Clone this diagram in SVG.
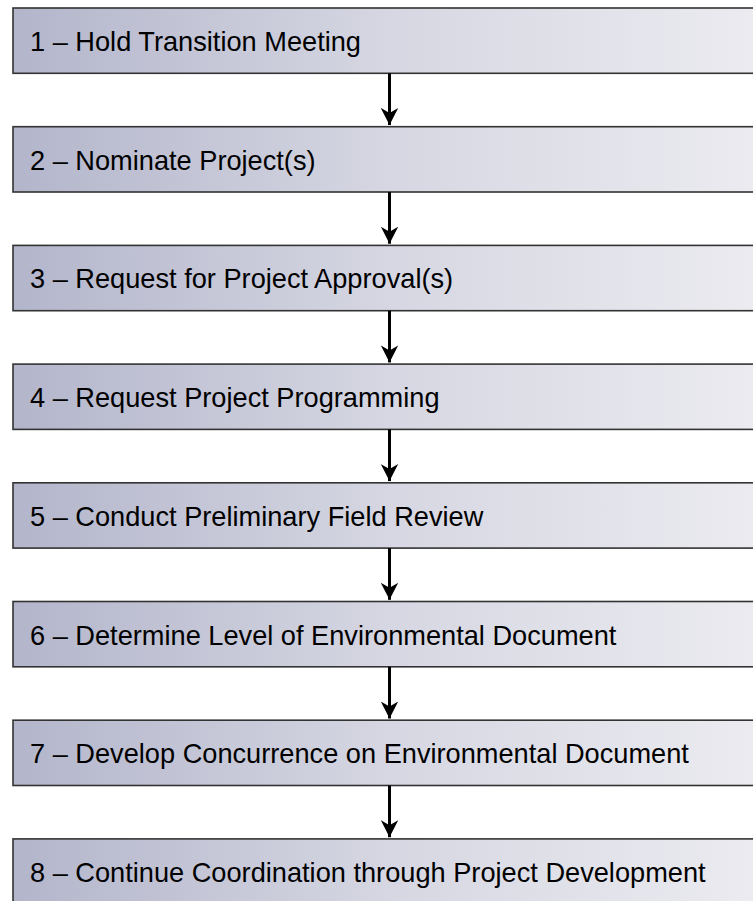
<svg xmlns="http://www.w3.org/2000/svg" width="753" height="901" viewBox="0 0 753 901">
<defs>
<linearGradient id="g" x1="0" y1="0" x2="1" y2="0">
<stop offset="0" stop-color="#b3b5cb"/>
<stop offset="0.5" stop-color="#d6d7e2"/>
<stop offset="1" stop-color="#ececf1"/>
</linearGradient>
<marker id="ah" viewBox="0 0 18 18" markerWidth="18" markerHeight="18" refX="17" refY="9" orient="auto" markerUnits="userSpaceOnUse">
<path d="M0,0.3 L17,9 L0,17.7 L5,9 Z" fill="#000"/>
</marker>
<style>
.box rect{fill:url(#g);stroke:#333;stroke-width:1.6}
.box text{font-family:"Liberation Sans",Arial,sans-serif;font-size:27.2px;fill:#000}
.conn line{stroke:#000;stroke-width:3;marker-end:url(#ah)}
</style>
</defs>
<rect width="753" height="901" fill="#fff"/>
<g id="n1" class="box"><rect x="13" y="8" width="760" height="65.3"/><text x="30" y="51">1 – Hold Transition Meeting</text></g>
<g id="n2" class="box"><rect x="13" y="126.7" width="760" height="65.3"/><text x="30" y="169.7">2 – Nominate Project(s)</text></g>
<g id="n3" class="box"><rect x="13" y="245.4" width="760" height="65.3"/><text x="30" y="288.4">3 – Request for Project Approval(s)</text></g>
<g id="n4" class="box"><rect x="13" y="364.1" width="760" height="65.3"/><text x="30" y="407.1">4 – Request Project Programming</text></g>
<g id="n5" class="box"><rect x="13" y="482.8" width="760" height="65.3"/><text x="30" y="525.8">5 – Conduct Preliminary Field Review</text></g>
<g id="n6" class="box"><rect x="13" y="601.5" width="760" height="65.3"/><text x="30" y="644.5">6 – Determine Level of Environmental Document</text></g>
<g id="n7" class="box"><rect x="13" y="720.2" width="760" height="65.3"/><text x="30" y="763.2">7 – Develop Concurrence on Environmental Document</text></g>
<g id="n8" class="box"><rect x="13" y="838.9" width="760" height="65.3"/><text x="30" y="881.9">8 – Continue Coordination through Project Development</text></g>
<g id="connectors" class="conn">
<line x1="389.5" y1="73.3" x2="389.5" y2="125"/>
<line x1="389.5" y1="192" x2="389.5" y2="243.7"/>
<line x1="389.5" y1="310.7" x2="389.5" y2="362.4"/>
<line x1="389.5" y1="429.4" x2="389.5" y2="481.1"/>
<line x1="389.5" y1="548.1" x2="389.5" y2="599.8"/>
<line x1="389.5" y1="666.8" x2="389.5" y2="718.5"/>
<line x1="389.5" y1="785.5" x2="389.5" y2="837.2"/>
</g>
</svg>
